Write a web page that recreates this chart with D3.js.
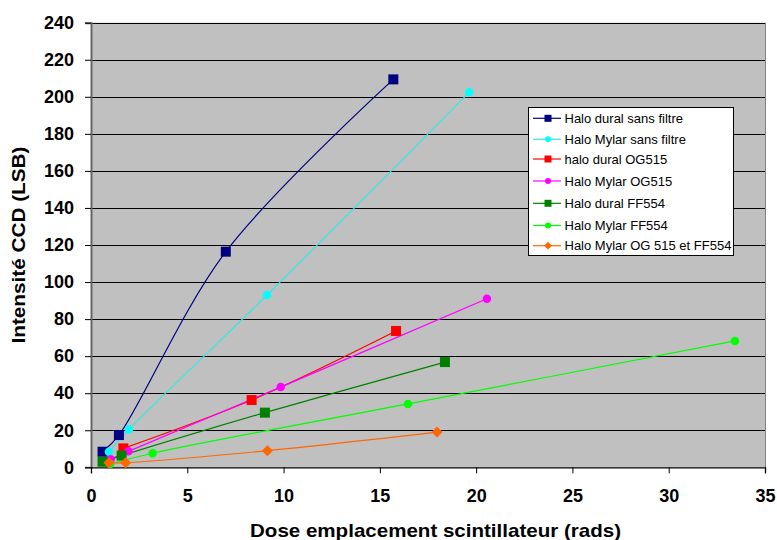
<!DOCTYPE html>
<html><head><meta charset="utf-8">
<script src="https://cdn.jsdelivr.net/npm/d3@7"></script>
<style>body{margin:0;background:#fff}svg{display:block}text{font-family:Arial,"Liberation Sans",sans-serif}</style>
</head><body><svg id="c" width="777" height="540"></svg>
<script>
const seriesNames = ["Halo dural sans filtre","Halo Mylar sans filtre","halo dural OG515","Halo Mylar OG515","Halo dural FF554","Halo Mylar FF554","Halo Mylar OG 515 et FF554"];
const seriesColors = ["#000080","#33E6E6","#FF0000","#FF00FF","#008000","#00FF00","#FF6600"];
const markerColors = ["#000080","#00FFFF","#FF0000","#FF00FF","#008000","#00FF00","#FF6600"];
const seriesShapes = ["square","circle","square","circle","square","circle","diamond"];
const duralSansX = [0.6, 1.45, 7.0, 15.7];
const duralSansY = [8.4, 17.4, 116.4, 209.4];
const mylarSansX = [0.93, 1.97, 9.14, 19.64];
const mylarSansY = [8.4, 20.5, 93, 202.4];
const duralOGX = [1.68, 8.34, 15.84];
const duralOGY = [10.2, 36.3, 73.6];
const mylarOGX = [1.02, 1.94, 9.85, 20.56];
const mylarOGY = [4.3, 8.6, 43.3, 91];
const duralFFX = [0.6, 1.59, 9.03, 18.38];
const duralFFY = [3.0, 6.3, 29.5, 56.8];
const mylarFFX = [1.0, 3.2, 16.46, 33.44];
const mylarFFY = [1.8, 7.6, 34.2, 68.2];
const mylarOGFFX = [0.93, 1.8, 9.16, 17.97];
const mylarOGFFY = [2.5, 2.5, 9.0, 19.0];
const xTicks = [0,5,10,15,20,25,30,35];
const yTicks = [0,20,40,60,80,100,120,140,160,180,200,220,240];

const allX = [duralSansX, mylarSansX, duralOGX, mylarOGX, duralFFX, mylarFFX, mylarOGFFX];
const allY = [duralSansY, mylarSansY, duralOGY, mylarOGY, duralFFY, mylarFFY, mylarOGFFY];
const series = seriesNames.map((n,i)=>({name:n, pts: allX[i].map((x,j)=>[x, allY[i][j]])}));

const svg = d3.select("#c");
const L=91, R=765, T=22.7, B=467.3;
const x = d3.scaleLinear().domain([0,35]).range([L,R]);
const y = d3.scaleLinear().domain([0,240]).range([B,T]);

svg.append("rect").attr("x",L).attr("y",T).attr("width",R-L).attr("height",B-T).attr("fill","#C0C0C0");
svg.append("g").selectAll("line").data(yTicks.slice(1)).join("line")
  .attr("x1",L).attr("x2",R).attr("y1",d=>Math.round(y(d))+0.5).attr("y2",d=>Math.round(y(d))+0.5)
  .attr("stroke","#000").attr("stroke-width",1.2);
svg.append("line").attr("x1",R+0.5).attr("x2",R+0.5).attr("y1",T).attr("y2",B).attr("stroke","#808080");

const yAxis = d3.axisLeft(y).tickValues(yTicks).tickSize(6).tickPadding(11).tickFormat(d3.format("d"));
const gy = svg.append("g").attr("transform",`translate(${L},0)`).call(yAxis);
const xAxis = d3.axisBottom(x).tickValues(xTicks).tickSize(6).tickPadding(16).tickFormat(d3.format("d"));
const gx = svg.append("g").attr("transform",`translate(0,${B})`).call(xAxis);
[gx,gy].forEach(g=>{
  g.select(".domain").attr("stroke","#000").attr("stroke-width",1.3);
  g.selectAll(".tick line").attr("stroke","#000");
  g.selectAll("text").attr("font-size",18).attr("font-weight","bold").attr("fill","#000")
   .attr("font-family","Arial, 'Liberation Sans', sans-serif");
});
gy.select(".domain").attr("stroke","#666").attr("stroke-width",2);

svg.append("text").attr("x",250).attr("y",537)
  .attr("font-size",19).attr("font-weight","bold")
  .attr("textLength",371).attr("lengthAdjust","spacingAndGlyphs")
  .text("Dose emplacement scintillateur (rads)");
svg.append("text").attr("transform","translate(25,343.5) rotate(-90)")
  .attr("font-size",19).attr("font-weight","bold")
  .attr("textLength",197).attr("lengthAdjust","spacingAndGlyphs")
  .text("Intensité CCD (LSB)");

const line = d3.line().x(d=>x(d[0])).y(d=>y(d[1])).curve(d3.curveCatmullRom.alpha(0.5));

function marker(g, shape, color, cx, cy, s){
  if(shape==="square") g.append("rect").attr("x",cx-s/2).attr("y",cy-s/2).attr("width",s).attr("height",s).attr("fill",color);
  else if(shape==="circle") g.append("circle").attr("cx",cx).attr("cy",cy).attr("r",s/2*0.85).attr("fill",color);
  else g.append("path").attr("d",`M${cx},${cy-s/2*1.1}L${cx+s/2*1.1},${cy}L${cx},${cy+s/2*1.1}L${cx-s/2*1.1},${cy}Z`).attr("fill",color);
}

const plot = svg.append("g");
series.forEach((s,i)=>{
  plot.append("path").attr("d",line(s.pts)).attr("fill","none").attr("stroke",seriesColors[i]).attr("stroke-width",1.2);
});
series.forEach((s,i)=>{
  const g = plot.append("g");
  s.pts.forEach(p=>marker(g, seriesShapes[i], markerColors[i], x(p[0]), y(p[1]), 10));
});

const lg = svg.append("g");
lg.append("rect").attr("x",528.5).attr("y",107.5).attr("width",205).attr("height",148).attr("fill","#fff").attr("stroke","#000");
const ly = [118.3,139.3,159,181,203.3,225.5,245.7];
series.forEach((s,i)=>{
  lg.append("line").attr("x1",533).attr("x2",561).attr("y1",ly[i]).attr("y2",ly[i]).attr("stroke",seriesColors[i]).attr("stroke-width",1.2);
  marker(lg, seriesShapes[i], markerColors[i], 548, ly[i], 7);
  lg.append("text").attr("x",564.5).attr("y",ly[i]+4.5).attr("font-size",13).text(s.name);
});
</script></body></html>
